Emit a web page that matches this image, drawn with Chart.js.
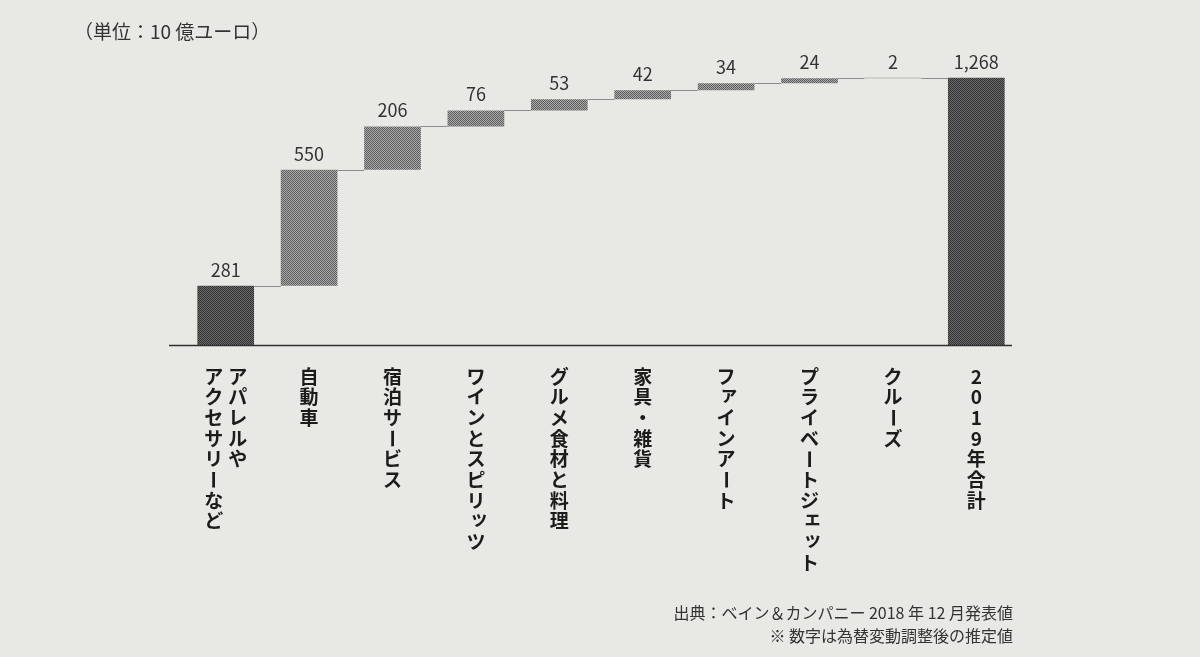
<!DOCTYPE html>
<html lang="ja">
<head>
<meta charset="utf-8">
<title>ラグジュアリー市場 2019</title>
<script src="https://cdn.jsdelivr.net/npm/chart.js@4.4.1/dist/chart.umd.min.js"></script>
<style>
html, body { margin: 0; padding: 0; background: #e8e8e5; }
#wrap { position: relative; width: 1200px; height: 657px; }
</style>
</head>
<body>
<div id="wrap"><canvas id="waterfallChart" width="1200" height="657"></canvas></div>
<script>

// Datos (単位：10 億ユーロ)
const categorias = [
    ["アパレルや", "アクセサリーなど"],
    ["自動車"],
    ["宿泊サービス"],
    ["ワインとスピリッツ"],
    ["グルメ食材と料理"],
    ["家具・雑貨"],
    ["ファインアート"],
    ["プライベートジェット"],
    ["クルーズ"],
    ["2019年合計"]
];
const valores = [281, 550, 206, 76, 53, 42, 34, 24, 2];
const totalValor = 1268;
const unidad = "（単位：10 億ユーロ）";
const fuente = [
    "出典：ベイン＆カンパニー 2018 年 12 月発表値",
    "※ 数字は為替変動調整後の推定値"
];

const FUENTE = '"Noto Sans CJK JP", "Noto Sans", sans-serif';
const PEQUENAS = "ァィゥェォッャュョヮぁぃぅぇぉっゃゅょ";

// barras flotantes
let acumulado = 0;
const rangos = valores.map(v => {
    const r = [acumulado, acumulado + v];
    acumulado += v;
    return r;
});
rangos.push([0, totalValor]);
const etiquetasValor = valores.concat([totalValor]);

function crearPatron(fondo, punto) {
    const p = document.createElement("canvas");
    p.width = 2;
    p.height = 2;
    const g = p.getContext("2d");
    g.fillStyle = fondo;
    g.fillRect(0, 0, 2, 2);
    g.fillStyle = punto;
    g.fillRect(0, 0, 1, 1);
    g.fillRect(1, 1, 1, 1);
    return g.createPattern(p, "repeat");
}

const patronOscuro = crearPatron("#6a6a6a", "#343434");
const patronClaro = crearPatron("#a9a9a9", "#5e5e5e");
const colores = rangos.map((r, i) =>
    (i === 0 || i === rangos.length - 1) ? patronOscuro : patronClaro);

const dibujoExtra = {
    id: "dibujoExtra",
    afterDatasetsDraw(chart) {
        const ctx = chart.ctx;
        const meta = chart.getDatasetMeta(0);
        const y = chart.scales.y;
        const area = chart.chartArea;
        ctx.save();

        // conectores
        ctx.strokeStyle = "#8c8c8c";
        ctx.lineWidth = 1;
        for (let i = 0; i < meta.data.length - 1; i++) {
            const b = meta.data[i];
            const n = meta.data[i + 1];
            const py = Math.round(y.getPixelForValue(rangos[i][1])) + 0.5;
            ctx.beginPath();
            ctx.moveTo(b.x + b.width / 2, py);
            ctx.lineTo(n.x - n.width / 2, py);
            ctx.stroke();
        }

        // eje
        const y0 = y.getPixelForValue(0);
        ctx.strokeStyle = "#303030";
        ctx.lineWidth = 1.5;
        ctx.beginPath();
        ctx.moveTo(area.left - 15, y0 + 0.5);
        ctx.lineTo(area.right - 6, y0 + 0.5);
        ctx.stroke();

        // valores
        ctx.fillStyle = "#333";
        ctx.font = "18px " + FUENTE;
        ctx.textAlign = "center";
        ctx.textBaseline = "bottom";
        meta.data.forEach((b, i) => {
            const top = Math.min(b.y, b.base);
            ctx.fillText(etiquetasValor[i].toLocaleString("en-US"), b.x, top - 7);
        });

        // etiquetas verticales
        ctx.fillStyle = "#1c1c1c";
        ctx.font = "bold 19px " + FUENTE;
        ctx.textBaseline = "middle";
        const paso = 20.7;
        const sepCol = 24;
        const inicio = y0 + 21;
        meta.data.forEach((b, i) => {
            const cols = categorias[i];
            cols.forEach((texto, k) => {
                const cx = b.x + ((cols.length - 1) / 2 - k) * sepCol;
                Array.from(texto).forEach((ch, j) => {
                    const cy = inicio + j * paso + paso / 2;
                    if (ch === "ー") {
                        ctx.save();
                        ctx.translate(cx, cy);
                        ctx.rotate(Math.PI / 2);
                        ctx.fillText(ch, 0, 0);
                        ctx.restore();
                    } else if (PEQUENAS.includes(ch)) {
                        ctx.fillText(ch, cx + 3, cy - 3);
                    } else {
                        ctx.fillText(ch, cx, cy);
                    }
                });
            });
        });

        // unidad y fuente
        ctx.fillStyle = "#333";
        ctx.font = "19px " + FUENTE;
        ctx.textAlign = "left";
        ctx.fillText(unidad, 74, 32);
        ctx.font = "16px " + FUENTE;
        ctx.textAlign = "right";
        ctx.fillText(fuente[0], 1013, 613);
        ctx.fillText(fuente[1], 1013, 636);

        ctx.restore();
    }
};

new Chart(document.getElementById("waterfallChart"), {
    type: "bar",
    data: {
        labels: categorias.map(c => c.join("")),
        datasets: [{
            data: rangos,
            backgroundColor: colores,
            borderWidth: 0,
            barPercentage: 0.68,
            categoryPercentage: 1
        }]
    },
    options: {
        responsive: false,
        animation: false,
        layout: {
            padding: { left: 184, right: 182, top: 60, bottom: 312 }
        },
        plugins: {
            legend: { display: false },
            tooltip: { enabled: false }
        },
        scales: {
            x: { display: false },
            y: { display: false, min: 0, max: 1352 }
        }
    },
    plugins: [dibujoExtra]
});

</script>
</body>
</html>
